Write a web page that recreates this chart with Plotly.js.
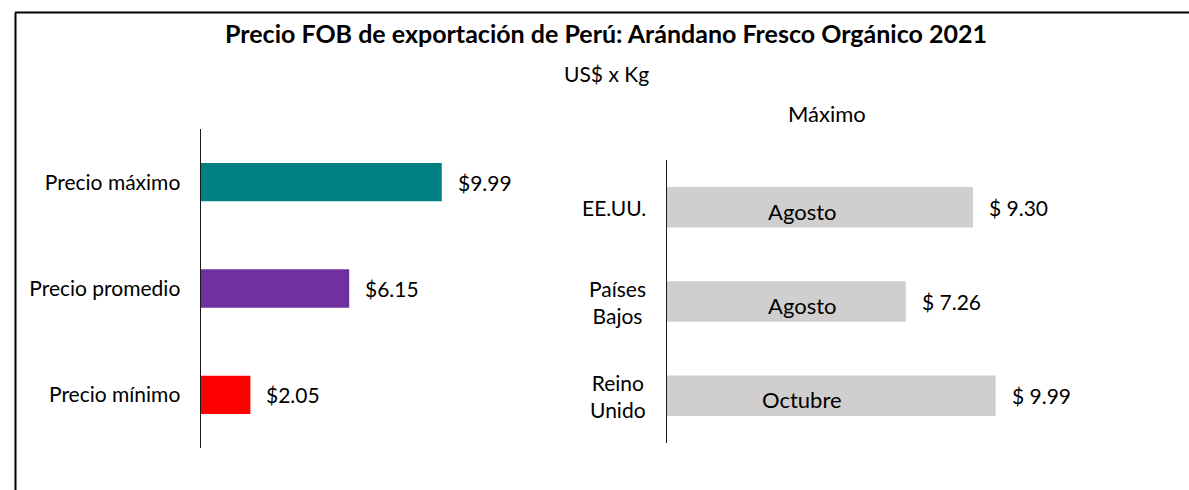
<!DOCTYPE html>
<html>
<head>
<meta charset="utf-8">
<script src="https://cdn.plot.ly/plotly-3.0.1.min.js"></script>
<style>html,body{margin:0;padding:0;background:#fff;}#chart{width:1189px;height:490px;}</style>
</head>
<body>
<div id="chart"></div>
<script>
// ---- data ----
const priceCategories = ["Precio máximo", "Precio promedio", "Precio mínimo"];
const priceValues = [9.99, 6.15, 2.05];
const priceColors = ["#008080", "#7030A0", "#FF0000"];

const countryCategories = ["EE.UU.", "Países<br>Bajos", "Reino<br>Unido"];
const countryValues = [9.30, 7.26, 9.99];
const countryMonths = ["Agosto", "Agosto", "Octubre"];

const chartTitle = "Precio FOB de exportación de Perú: Arándano Fresco Orgánico 2021";
const chartSubtitle = "US$ x Kg";
const rightTitle = "Máximo";

// ---- layout helpers ----
const W = 1189, H = 490;
const px = x => x / W;
const py = y => 1 - y / H;
const FONT = "Lato, 'Open Sans', sans-serif";
const TXT = "#000000";
const FS = 21;

const traces = [
  {
    type: "bar", orientation: "h",
    y: priceCategories, x: priceValues,
    xaxis: "x", yaxis: "y",
    marker: {color: priceColors},
    width: 0.36, hoverinfo: "x+y"
  },
  {
    type: "bar", orientation: "h",
    y: countryCategories, x: countryValues,
    xaxis: "x2", yaxis: "y2",
    marker: {color: "#D0CECE"},
    width: 0.43, hoverinfo: "x+y"
  }
];

const annotations = [
  {text: "<b>" + chartTitle + "</b>", xref: "paper", yref: "paper", x: px(606), y: py(33),
   xanchor: "center", yanchor: "middle", showarrow: false, font: {family: FONT, size: 25, color: TXT}},
  {text: chartSubtitle, xref: "paper", yref: "paper", x: px(606), y: py(73),
   xanchor: "center", yanchor: "middle", showarrow: false, font: {family: FONT, size: FS, color: TXT}},
  {text: rightTitle, xref: "paper", yref: "paper", x: px(827), y: py(113),
   xanchor: "center", yanchor: "middle", showarrow: false, font: {family: FONT, size: 22, color: TXT}}
];

priceValues.forEach((v, i) => {
  annotations.push({text: "$" + v.toFixed(2), xref: "x", yref: "y", x: v, y: priceCategories[i],
    xanchor: "left", yanchor: "middle", xshift: 14, showarrow: false,
    font: {family: FONT, size: FS, color: TXT}});
});

countryValues.forEach((v, i) => {
  annotations.push({text: "$ " + v.toFixed(2), xref: "x2", yref: "y2", x: v, y: countryCategories[i],
    xanchor: "left", yanchor: "middle", xshift: 14, showarrow: false,
    font: {family: FONT, size: FS, color: TXT}});
  annotations.push({text: countryMonths[i], xref: "x2", yref: "y2", x: 0, y: countryCategories[i],
    xanchor: "center", yanchor: "middle", xshift: 135, yshift: -4, showarrow: false,
    font: {family: FONT, size: 22, color: TXT}});
  annotations.push({text: countryCategories[i], xref: "paper", yref: "y2", x: px(667), y: countryCategories[i],
    xanchor: "right", yanchor: "middle", xshift: -19, align: "center", showarrow: false,
    font: {family: FONT, size: FS, color: TXT}});
});

const layout = {
  width: W, height: H,
  margin: {l: 0, r: 0, t: 0, b: 0, pad: 0},
  paper_bgcolor: "#ffffff", plot_bgcolor: "rgba(0,0,0,0)",
  showlegend: false,
  xaxis: {domain: [px(201), px(561)], range: [0, 360 / 24.1], visible: false, fixedrange: true},
  yaxis: {domain: [py(448), py(129)], type: "category", categoryorder: "array", categoryarray: priceCategories,
          autorange: "reversed", showline: true, linecolor: "#1a1a1a", linewidth: 1.5,
          showgrid: false, zeroline: false, ticks: "", ticklabelstandoff: 15,
          tickfont: {family: FONT, size: FS, color: TXT}, fixedrange: true},
  xaxis2: {domain: [px(667), px(1167)], range: [0, 500 / 32.9], visible: false, fixedrange: true, anchor: "y2"},
  yaxis2: {domain: [py(443), py(160)], type: "category", categoryorder: "array", categoryarray: countryCategories,
           autorange: "reversed", showline: true, linecolor: "#1a1a1a", linewidth: 1.5,
           showgrid: false, zeroline: false, ticks: "", showticklabels: false, anchor: "x2", fixedrange: true},
  annotations: annotations,
  shapes: [
    {type: "line", xref: "paper", yref: "paper", x0: px(15), x1: 1, y0: py(12.5), y1: py(12.5),
     line: {color: "#000000", width: 2}},
    {type: "line", xref: "paper", yref: "paper", x0: px(15.5), x1: px(15.5), y0: 0, y1: py(12.5),
     line: {color: "#000000", width: 2}}
  ]
};

Plotly.newPlot("chart", traces, layout, {displayModeBar: false, staticPlot: true});
</script>
</body>
</html>
